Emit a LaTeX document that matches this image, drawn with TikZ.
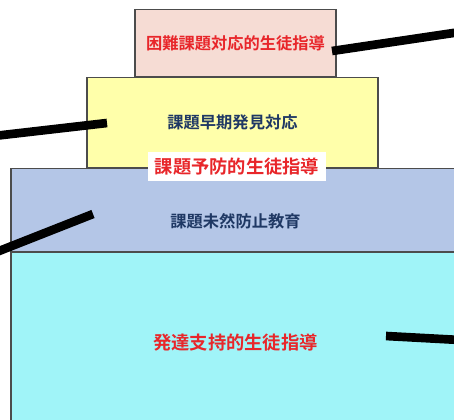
\documentclass[tikz,border=0pt]{standalone}
\usepackage{fontspec}
\newfontfamily\jpfont{Noto Sans CJK JP}[BoldFont={Noto Sans CJK JP Bold}]
\usepackage{tikz}
\usetikzlibrary{positioning}
\usepackage{xcolor}

\definecolor{tierred}{HTML}{E8262A}
\definecolor{tiernavy}{HTML}{1F3864}

\begin{document}
\begin{tikzpicture}[x=0.75pt, y=-0.75pt,
    tier/.style={
        draw=black!70,
        rectangle,
        inner sep=0pt,
        line width=0.8pt,
        font=\jpfont\bfseries\fontsize{12.2}{14}\selectfont
    },
    toptier/.style={
        tier,
        fill={rgb,255:red,246;green,220;blue,212},
        minimum width=150.75pt,
        minimum height=50.25pt,
        text=tierred
    },
    earlytier/.style={
        tier,
        fill={rgb,255:red,255;green,255;blue,170},
        minimum width=218.25pt,
        minimum height=67.5pt,
        text=tiernavy
    },
    preventtier/.style={
        tier,
        fill={rgb,255:red,180;green,198;blue,231},
        minimum width=336.75pt,
        minimum height=62.25pt
    },
    supporttier/.style={
        tier,
        fill={rgb,255:red,160;green,244;blue,248},
        minimum width=336.75pt,
        minimum height=135pt,
        text=tierred,
        font=\jpfont\bfseries\fontsize{13.7}{16}\selectfont
    },
    tagline/.style={
        fill=white,
        inner xsep=5pt,
        inner ysep=4.5pt,
        text=tierred,
        font=\jpfont\bfseries\fontsize{13.7}{16}\selectfont
    },
    pointer/.style={
        line width=6.5pt,
        black
    },
    node distance=0pt
]
    \clip (0,0) rectangle (454,419);

    % the four tiers of the pyramid
    \node[toptier, anchor=north] (difficult) at (235.5,9) {困難課題対応的生徒指導};
    \node[earlytier] (early) [below=0pt of difficult, xshift=-2.25pt] {課題早期発見対応};
    \node[preventtier] (prevent) [below=0pt of early, xshift=2.25pt] {};
    \node[supporttier, anchor=north] (support) at (prevent.south) {\raisebox{2pt}{発達支持的生徒指導}};

    % text of the prevention tier and its heading
    \node[text=tiernavy, font=\jpfont\bfseries\fontsize{12.2}{14}\selectfont]
        (preventtext) at ([yshift=-8pt]prevent.center) {課題未然防止教育};
    \node[tagline] (preventtag) at (237,166.5) {課題予防的生徒指導};

    % thick pointers
    \coordinate (tipA) at (332,51);
    \coordinate (endA) at (460,32);
    \coordinate (tipB) at (107,123);
    \coordinate (endB) at (-6,136);
    \coordinate (tipC) at (93,214);
    \coordinate (endC) at (-6,253);
    \coordinate (tipD) at (386,336);
    \coordinate (endD) at (460,340);
    \draw[pointer] (tipA) -- (endA);
    \draw[pointer] (tipB) -- (endB);
    \draw[pointer] (tipC) -- (endC);
    \draw[pointer] (tipD) -- (endD);
\end{tikzpicture}
\end{document}
